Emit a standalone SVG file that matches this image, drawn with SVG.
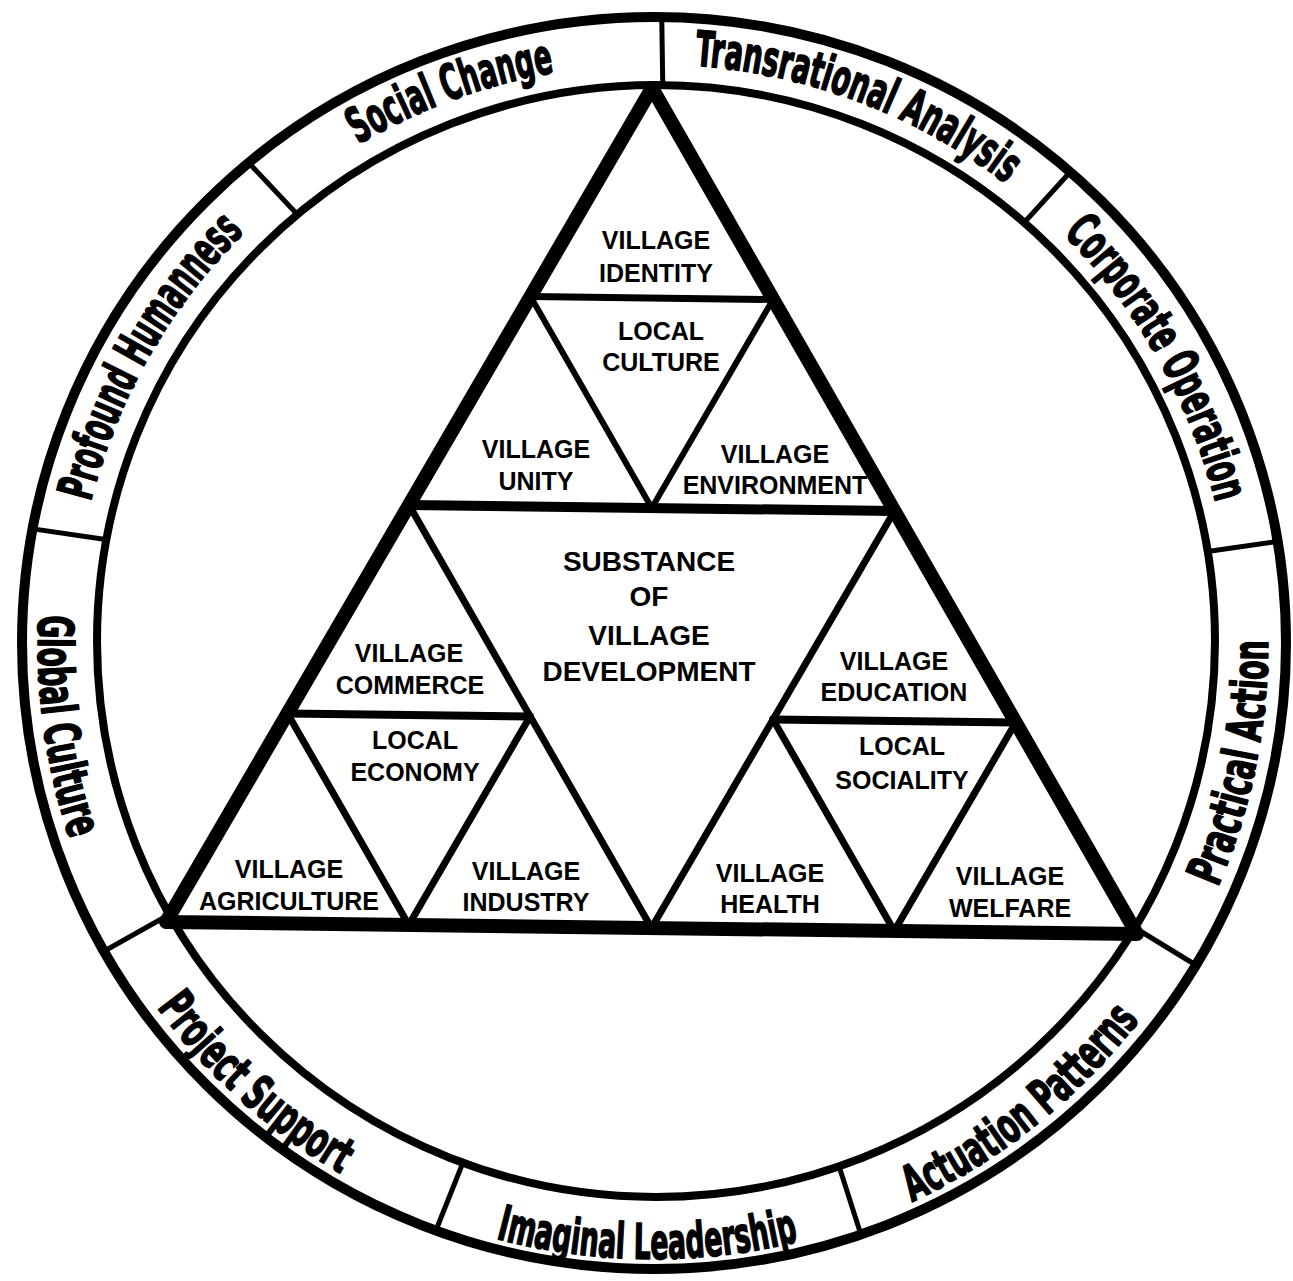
<svg xmlns="http://www.w3.org/2000/svg" width="1293" height="1281" viewBox="0 0 1293 1281">
<style>
.ring{fill:none;stroke:#000}
.div{stroke:#000;stroke-width:5;stroke-linecap:butt}
.lbl{font-family:"Liberation Sans Narrow","DejaVu Sans Condensed","Roboto Condensed","Liberation Sans",sans-serif;font-weight:bold;font-size:49px;fill:#000;stroke:#000;stroke-width:1.6;stroke-linejoin:round;font-stretch:condensed}
.cell{font-family:"Liberation Sans",Arial,sans-serif;font-weight:bold;font-size:25px;fill:#000;text-anchor:middle}
.big{font-size:28px}
.tri{fill:none;stroke:#000;stroke-linejoin:round;stroke-linecap:round}
</style>
<defs>
<path id="pSocial" d="M358.6,144.3 A580,580 0 0 1 554.3,72.5"/>
<path id="pTrans" d="M693.5,65.4 A580,580 0 0 1 1006.9,184.5"/>
<path id="pCorp" d="M1062.4,233.2 A580,580 0 0 1 1215.8,503.7"/>
<path id="pProf" d="M90.5,502.7 A580,580 0 0 1 245.0,231.7"/>
<path id="pPract" d="M1217.4,888.2 A615,615 0 0 0 1268,639.7"/>
<path id="pAct" d="M911.0,1202.3 A615,615 0 0 0 1140.3,1019.2"/>
<path id="pImag" d="M494.9,1238.3 A615,615 0 0 0 799.7,1241.2"/>
<path id="pProj" d="M156.1,1006.4 A615,615 0 0 0 341.8,1174.4"/>
<path id="pGlob" d="M38.7,614.0 A615,615 0 0 0 70.1,840.2"/>
</defs>
<rect width="1293" height="1281" fill="#fff"/>

<g id="ring">
<ellipse class="ring" cx="654" cy="643" rx="632" ry="626" stroke-width="10"/>
<ellipse class="ring" cx="656" cy="641" rx="559" ry="556" stroke-width="8"/>
</g>

<g id="connectors">
<g id="ring-dividers">
<line class="div" x1="661.7" y1="14" x2="662.8" y2="88"/>
<line class="div" x1="1072" y1="170" x2="1022" y2="225"/>
<line class="div" x1="1281" y1="541" x2="1204" y2="552"/>
<line class="div" x1="1199" y1="967" x2="1132" y2="926"/>
<line class="div" x1="862" y1="1238" x2="838" y2="1163"/>
<line class="div" x1="434.7" y1="1233.5" x2="464" y2="1160"/>
<line class="div" x1="100.9" y1="953" x2="172" y2="913"/>
<line class="div" x1="29.6" y1="528.4" x2="109" y2="540"/>
<line class="div" x1="246.6" y1="160.5" x2="299.5" y2="216.8"/>
</g>
<g id="triangle-lines">
<polygon class="tri" points="652,88 166,922 1137,934" stroke-width="14"/>
<line class="tri" x1="409" y1="505" x2="894.5" y2="511" stroke-width="10"/>
<line class="tri" x1="409" y1="505" x2="651.5" y2="928" stroke-width="7"/>
<line class="tri" x1="894.5" y1="511" x2="651.5" y2="928" stroke-width="7"/>
<line class="tri" x1="530.5" y1="296.5" x2="773" y2="299.5" stroke-width="7"/>
<line class="tri" x1="530.5" y1="296.5" x2="651.75" y2="508" stroke-width="6"/>
<line class="tri" x1="773" y1="299.5" x2="651.75" y2="508" stroke-width="6"/>
<line class="tri" x1="287.5" y1="713.5" x2="530" y2="716.5" stroke-width="8"/>
<line class="tri" x1="287.5" y1="713.5" x2="408.75" y2="925" stroke-width="7"/>
<line class="tri" x1="530" y1="716.5" x2="408.75" y2="925" stroke-width="7"/>
<line class="tri" x1="773" y1="719.5" x2="1015.75" y2="722.5" stroke-width="8"/>
<line class="tri" x1="773" y1="719.5" x2="894.25" y2="931" stroke-width="7"/>
<line class="tri" x1="1015.75" y1="722.5" x2="894.25" y2="931" stroke-width="7"/>
</g>
</g>

<g id="label-social-change"><text class="lbl"><textPath href="#pSocial" startOffset="50%" text-anchor="middle" textLength="210" lengthAdjust="spacingAndGlyphs">Social Change</textPath></text></g>
<g id="label-transrational-analysis"><text class="lbl"><textPath href="#pTrans" startOffset="50%" text-anchor="middle" textLength="338" lengthAdjust="spacingAndGlyphs">Transrational Analysis</textPath></text></g>
<g id="label-corporate-operation"><text class="lbl"><textPath href="#pCorp" startOffset="50%" text-anchor="middle" textLength="313" lengthAdjust="spacingAndGlyphs">Corporate Operation</textPath></text></g>
<g id="label-practical-action"><text class="lbl"><textPath href="#pPract" startOffset="50%" text-anchor="middle" textLength="254" lengthAdjust="spacingAndGlyphs">Practical Action</textPath></text></g>
<g id="label-actuation-patterns"><text class="lbl"><textPath href="#pAct" startOffset="50%" text-anchor="middle" textLength="294" lengthAdjust="spacingAndGlyphs">Actuation Patterns</textPath></text></g>
<g id="label-imaginal-leadership"><text class="lbl"><textPath href="#pImag" startOffset="50%" text-anchor="middle" textLength="306" lengthAdjust="spacingAndGlyphs">Imaginal Leadership</textPath></text></g>
<g id="label-project-support"><text class="lbl"><textPath href="#pProj" startOffset="50%" text-anchor="middle" textLength="250" lengthAdjust="spacingAndGlyphs">Project Support</textPath></text></g>
<g id="label-global-culture"><text class="lbl"><textPath href="#pGlob" startOffset="50%" text-anchor="middle" textLength="228" lengthAdjust="spacingAndGlyphs">Global Culture</textPath></text></g>
<g id="label-profound-humanness"><text class="lbl"><textPath href="#pProf" startOffset="50%" text-anchor="middle" textLength="314" lengthAdjust="spacingAndGlyphs">Profound Humanness</textPath></text></g>

<g id="node-village-identity"><text class="cell" x="656" y="249">VILLAGE</text><text class="cell" x="656" y="282">IDENTITY</text></g>
<g id="node-local-culture"><text class="cell" x="661" y="340">LOCAL</text><text class="cell" x="661" y="371">CULTURE</text></g>
<g id="node-village-unity"><text class="cell" x="536" y="458">VILLAGE</text><text class="cell" x="536" y="490">UNITY</text></g>
<g id="node-village-environment"><text class="cell" x="775" y="463">VILLAGE</text><text class="cell" x="775" y="494">ENVIRONMENT</text></g>
<g id="node-substance"><text class="cell big" x="649" y="571">SUBSTANCE</text><text class="cell big" x="649" y="606">OF</text><text class="cell big" x="649" y="645">VILLAGE</text><text class="cell big" x="649" y="681">DEVELOPMENT</text></g>
<g id="node-village-commerce"><text class="cell" x="409" y="662">VILLAGE</text><text class="cell" x="410" y="694">COMMERCE</text></g>
<g id="node-local-economy"><text class="cell" x="415" y="749">LOCAL</text><text class="cell" x="415" y="781">ECONOMY</text></g>
<g id="node-village-agriculture"><text class="cell" x="289" y="878">VILLAGE</text><text class="cell" x="289" y="910">AGRICULTURE</text></g>
<g id="node-village-industry"><text class="cell" x="526" y="880">VILLAGE</text><text class="cell" x="526" y="911">INDUSTRY</text></g>
<g id="node-village-education"><text class="cell" x="894" y="670">VILLAGE</text><text class="cell" x="894" y="701">EDUCATION</text></g>
<g id="node-local-sociality"><text class="cell" x="902" y="755">LOCAL</text><text class="cell" x="902" y="789">SOCIALITY</text></g>
<g id="node-village-health"><text class="cell" x="770" y="882">VILLAGE</text><text class="cell" x="770" y="913">HEALTH</text></g>
<g id="node-village-welfare"><text class="cell" x="1010" y="885">VILLAGE</text><text class="cell" x="1010" y="917">WELFARE</text></g>
</svg>
